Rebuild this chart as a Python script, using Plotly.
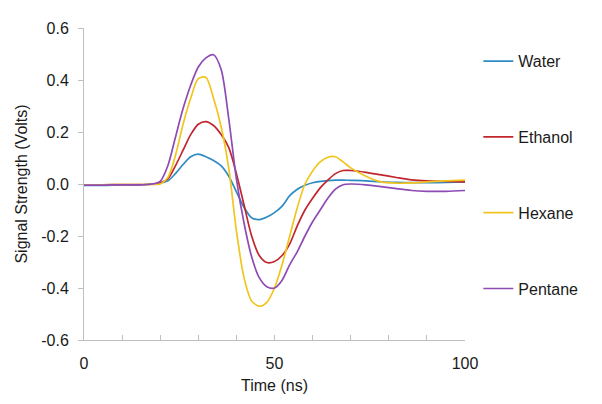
import plotly.graph_objects as go

time_ns = [0, 5, 10, 15, 18, 20, 22, 24, 26, 28, 30, 32, 34, 36, 38, 40, 42, 44, 46, 48,
           50, 52, 54, 56, 58, 60, 62, 64, 66, 68, 70, 74, 78, 82, 86, 90, 95, 100]

water = [-0.005, -0.005, -0.003, -0.003, 0.0, 0.003, 0.012, 0.04, 0.075, 0.105, 0.115, 0.105,
         0.09, 0.07, 0.03, -0.03, -0.09, -0.13, -0.137, -0.127, -0.11, -0.085, -0.045, -0.02,
         -0.005, 0.005, 0.01, 0.013, 0.015, 0.015, 0.014, 0.012, 0.008, 0.006, 0.005, 0.005,
         0.006, 0.008]

ethanol = [-0.003, -0.003, -0.002, -0.002, 0.0, 0.005, 0.02, 0.07, 0.13, 0.19, 0.23, 0.24,
           0.225, 0.19, 0.14, 0.04, -0.08, -0.2, -0.275, -0.302, -0.298, -0.275, -0.23, -0.16,
           -0.1, -0.055, -0.015, 0.015, 0.04, 0.052, 0.052, 0.045, 0.035, 0.025, 0.016, 0.012,
           0.01, 0.008]

hexane = [-0.003, -0.003, -0.002, -0.002, -0.002, 0.0, 0.025, 0.11, 0.23, 0.33, 0.405, 0.41,
          0.33, 0.22, 0.06, -0.18, -0.36, -0.45, -0.47, -0.455, -0.4, -0.31, -0.2, -0.09,
          0.0, 0.05, 0.085, 0.103, 0.105, 0.085, 0.062, 0.03, 0.008, 0.003, 0.004, 0.008,
          0.012, 0.015]

pentane = [-0.004, -0.004, -0.003, -0.003, 0.0, 0.01, 0.07, 0.18, 0.29, 0.38, 0.45, 0.485,
           0.497, 0.44, 0.25, 0.02, -0.15, -0.28, -0.36, -0.395, -0.4, -0.37, -0.31, -0.26,
           -0.2, -0.145, -0.1, -0.055, -0.02, -0.003, 0.0, -0.003, -0.01, -0.018, -0.025,
           -0.028, -0.028, -0.025]

series_names = ["Water", "Ethanol", "Hexane", "Pentane"]
series_values = [water, ethanol, hexane, pentane]
colors = ["#2E8BC4", "#C0272D", "#F2C51E", "#8E4BB5"]

y_tick_vals = [0.6, 0.4, 0.2, 0.0, -0.2, -0.4, -0.6]
y_tick_text = ["0.6", "0.4", "0.2", "0.0", "-0.2", "-0.4", "-0.6"]
x_tick_vals = [0, 50, 100]
x_tick_text = ["0", "50", "100"]

fig = go.Figure()
for name, vals, col in zip(series_names, series_values, colors):
    fig.add_trace(go.Scatter(
        x=time_ns, y=vals, mode="lines", name=name, legendgroup=name,
        line=dict(color=col, width=1.7, shape="spline", smoothing=0.8),
    ))

font_family = "Liberation Sans, Arial, sans-serif"
axis_col = "#BFBFBF"

fig.update_layout(
    width=602, height=404,
    margin=dict(l=76, r=145, t=17, b=72),
    paper_bgcolor="white", plot_bgcolor="white",
    font=dict(family=font_family, size=16, color="#1a1a1a"),
    showlegend=True,
    legend=dict(x=1.035, y=0.948, xanchor="left", yanchor="top",
                tracegroupgap=52, font=dict(size=16, color="#1a1a1a"),
                itemwidth=30, bgcolor="rgba(0,0,0,0)"),
    xaxis=dict(range=[0, 100], tickvals=x_tick_vals, ticktext=x_tick_text,
               showgrid=False, zeroline=False, showline=True, linecolor=axis_col, linewidth=1,
               ticks="inside", ticklen=5, tickcolor=axis_col,
               minor=dict(dtick=10, ticks="inside", ticklen=5, tickcolor=axis_col),
               ticklabelstandoff=9,
               title=dict(text="Time (ns)", standoff=8, font=dict(size=16))),
    yaxis=dict(range=[-0.6, 0.6], tickvals=y_tick_vals, ticktext=y_tick_text,
               showgrid=False, zeroline=False, showline=True, linecolor=axis_col, linewidth=1,
               ticks="outside", ticklen=5, tickcolor=axis_col,
               ticklabelstandoff=6,
               title=dict(text="Signal Strength (Volts)", standoff=9, font=dict(size=16))),
)

fig.write_html("out.html")
